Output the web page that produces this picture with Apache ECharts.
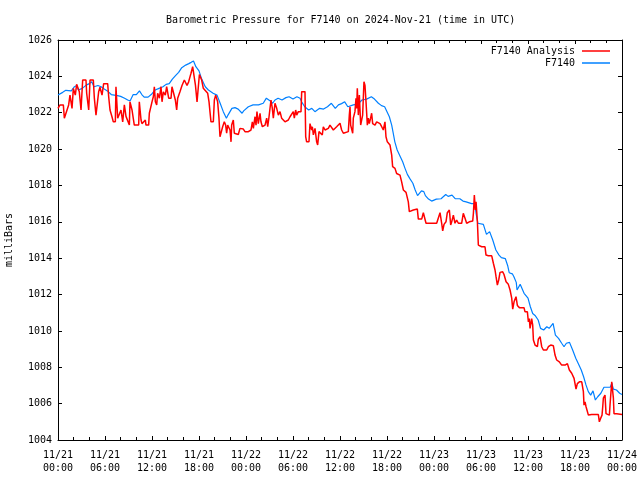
<!DOCTYPE html>
<html><head><meta charset="utf-8">
<script src="https://cdn.jsdelivr.net/npm/echarts@6/dist/echarts.min.js"></script>
<style>html,body{margin:0;padding:0;background:#fff}#c{width:640px;height:480px}</style>
</head><body><div id="c"></div>
<script>
const chartTitle = 'Barometric Pressure for F7140 on 2024-Nov-21 (time in UTC)';
const yAxisName = 'milliBars';
const seriesNames = ['F7140 Analysis', 'F7140'];
const xTickLabels = ['11/21\n00:00','11/21\n06:00','11/21\n12:00','11/21\n18:00','11/22\n00:00','11/22\n06:00','11/22\n12:00','11/22\n18:00','11/23\n00:00','11/23\n06:00','11/23\n12:00','11/23\n18:00','11/24\n00:00'];
const yMin = 1004, yMax = 1026, yStep = 2;
const xMin = 0, xMax = 72, xStep = 6; // hours since 11/21 00:00 UTC

// F7140 (station) — hours since start, pressure (mb)
const stationHours = [0,0.6,1.0,1.7,2.1,2.4,2.6,3.1,3.6,4.0,4.3,4.6,5.1,5.5,5.9,6.3,6.8,7.2,7.6,8.0,8.5,8.9,9.2,9.6,10.0,10.4,10.7,11.0,11.5,11.9,12.4,12.9,13.4,13.8,14.2,14.6,15.0,15.4,15.8,16.3,16.7,17.0,17.3,17.6,18.0,18.3,18.8,19.2,19.8,20.3,20.7,21.1,21.5,21.7,22.2,22.6,23.0,23.5,23.7,24.3,24.9,25.6,26.2,26.6,27.1,27.4,27.7,28.1,28.6,29.1,29.5,30.0,30.5,30.9,31.1,31.5,32.0,32.4,32.8,33.4,33.9,34.4,34.9,35.4,35.8,36.2,36.6,37.0,37.7,38.3,38.8,39.4,40.0,40.4,40.9,41.3,41.7,42.0,42.3,42.6,42.8,43.0,43.3,43.7,44.0,44.3,44.6,44.9,45.3,45.6,45.9,46.1,46.4,46.7,46.9,47.3,47.7,48.3,48.9,49.5,49.8,50.3,50.7,51.3,51.7,52.1,52.8,53.2,53.4,53.6,54.3,54.7,55.1,55.2,55.5,55.9,56.3,56.6,57.1,57.4,57.6,58.0,58.2,58.5,58.6,59.0,59.2,59.5,59.7,60.0,60.3,60.6,60.9,61.3,61.6,62.0,62.4,62.7,63.2,63.5,63.9,64.3,64.6,64.9,65.3,65.7,66.1,66.4,66.8,67.1,67.4,67.7,68.0,68.3,68.6,68.9,69.3,69.7,70.0,70.5,70.7,70.9,71.3,71.7,72.0];
const stationValues = [1022.97,1023.12,1023.23,1023.2,1023.43,1023.5,1023.25,1023.34,1023.52,1023.6,1023.7,1023.43,1023.5,1023.43,1023.3,1023.2,1023.0,1022.97,1022.94,1022.9,1022.8,1022.7,1022.65,1023.0,1023.0,1023.2,1023.0,1022.86,1022.86,1023.0,1023.25,1023.34,1023.43,1023.56,1023.6,1023.85,1024.04,1024.22,1024.48,1024.62,1024.7,1024.77,1024.85,1024.53,1024.3,1023.9,1023.43,1023.25,1023.07,1022.97,1022.52,1022.06,1021.7,1021.87,1022.24,1022.28,1022.2,1021.97,1022.1,1022.33,1022.43,1022.43,1022.52,1022.8,1022.65,1022.52,1022.7,1022.8,1022.7,1022.83,1022.88,1022.76,1022.88,1022.8,1022.6,1022.33,1022.15,1022.24,1022.06,1022.24,1022.2,1022.33,1022.52,1022.24,1022.43,1022.5,1022.6,1022.33,1022.43,1022.47,1022.7,1022.75,1022.88,1022.75,1022.52,1022.39,1022.33,1022.06,1021.78,1021.32,1020.87,1020.4,1019.95,1019.58,1019.3,1018.94,1018.61,1018.39,1018.12,1017.75,1017.44,1017.33,1017.7,1017.66,1017.44,1017.25,1017.14,1017.25,1017.27,1017.5,1017.4,1017.47,1017.27,1017.27,1017.14,1017.1,1017.0,1017.0,1016.4,1015.92,1015.86,1015.31,1015.46,1015.55,1015.0,1014.45,1014.17,1014.03,1013.98,1013.6,1013.2,1013.14,1012.98,1012.67,1012.25,1012.56,1012.45,1012.07,1012.07,1011.8,1011.33,1010.96,1010.85,1010.6,1010.14,1010.05,1010.23,1010.14,1010.41,1009.77,1009.59,1009.32,1009.13,1009.32,1009.37,1008.95,1008.5,1008.22,1007.85,1007.48,1007.03,1006.66,1006.47,1006.7,1006.2,1006.38,1006.57,1006.9,1006.9,1006.9,1007.12,1006.8,1006.75,1006.57,1006.5];

// F7140 Analysis — hours since start, pressure (mb)
const analysisHours = [0.0,0.26,0.68,0.81,1.02,1.36,1.53,1.79,1.96,2.21,2.38,2.72,2.94,3.15,3.57,3.66,3.92,4.09,4.51,4.64,4.85,5.06,5.19,5.36,5.62,5.83,6.34,6.47,6.64,6.89,7.06,7.32,7.4,7.62,7.83,8.04,8.26,8.47,8.68,8.89,9.11,9.19,9.45,9.74,10.3,10.38,10.6,10.72,10.89,11.15,11.23,11.57,11.66,11.87,12.0,12.17,12.3,12.43,12.6,12.72,12.94,13.15,13.28,13.45,13.7,13.87,14.13,14.43,14.55,14.72,14.98,15.15,15.28,15.57,15.83,16.13,16.34,16.47,16.68,16.85,16.98,17.19,17.4,17.55,17.75,17.95,18.05,18.25,18.34,18.55,18.77,19.11,19.28,19.4,19.53,19.83,19.96,20.13,20.38,20.55,20.68,20.89,21.02,21.23,21.4,21.53,21.66,21.83,21.96,22.09,22.17,22.38,22.51,22.68,23.02,23.23,23.66,23.87,24.3,24.64,24.81,24.94,25.15,25.28,25.4,25.57,25.79,25.91,26.09,26.43,26.64,26.77,26.94,27.19,27.36,27.49,27.7,27.92,28.13,28.34,28.55,28.77,28.98,29.4,29.62,29.83,30.04,30.17,30.34,30.47,30.68,31.02,31.11,31.53,31.62,31.74,32.04,32.17,32.38,32.47,32.6,32.81,33.02,33.15,33.32,33.57,33.74,33.87,34.09,34.3,34.51,34.72,34.94,35.15,35.36,35.57,35.79,36.0,36.21,36.43,36.64,37.06,37.19,37.28,37.36,37.62,37.7,37.91,38.04,38.13,38.21,38.34,38.47,38.64,38.77,38.89,39.06,39.19,39.32,39.49,39.62,39.74,39.91,40.04,40.17,40.47,40.68,40.89,41.11,41.32,41.53,41.74,41.87,42.04,42.17,42.38,42.6,42.72,43.02,43.23,43.66,43.87,44.09,44.43,44.72,44.85,45.02,45.36,45.87,46.0,46.43,46.64,46.85,46.98,47.7,48.34,48.55,48.77,48.98,49.11,49.28,49.53,49.7,49.96,50.13,50.26,50.47,50.68,50.89,51.11,51.53,51.74,51.96,52.17,52.51,52.6,52.94,53.03,53.15,53.28,53.37,53.54,53.66,54.09,54.51,54.64,54.94,55.37,55.58,55.79,55.92,56.09,56.26,56.43,56.77,56.94,57.2,57.49,57.71,57.92,58.05,58.22,58.47,58.64,58.9,59.49,59.62,59.92,60.05,60.17,60.26,60.47,60.6,60.69,60.9,61.2,61.32,61.54,61.75,61.96,62.39,62.6,62.9,63.24,63.45,63.66,64.0,64.3,64.51,64.73,65.03,65.28,65.58,65.88,66.13,66.3,66.56,66.86,67.07,67.15,67.28,67.41,67.58,67.71,68.13,68.98,69.11,69.28,69.45,69.54,69.62,69.83,69.96,70.05,70.39,70.47,70.69,70.81,70.9,70.98,71.32,71.54,72.0];
const analysisValues = [1022.24,1022.43,1022.43,1021.7,1021.8,1022.43,1022.97,1022.24,1023.34,1022.97,1023.56,1023.15,1022.15,1023.8,1023.8,1023.07,1022.15,1023.8,1023.8,1022.8,1021.87,1021.87,1023.15,1023.4,1022.97,1023.6,1023.6,1022.88,1022.15,1021.78,1021.5,1021.5,1023.43,1021.7,1021.8,1022.15,1021.5,1022.43,1021.8,1021.7,1021.32,1022.6,1022.15,1021.32,1021.32,1022.6,1021.6,1021.4,1021.5,1021.6,1021.32,1021.32,1021.97,1021.87,1022.6,1022.88,1023.43,1022.6,1022.43,1023.07,1022.8,1023.43,1022.6,1023.15,1022.97,1023.43,1022.8,1022.8,1023.43,1023.34,1022.7,1022.15,1022.8,1023.15,1023.5,1023.8,1023.8,1023.5,1023.7,1023.97,1024.17,1024.53,1024.53,1023.5,1022.6,1022.6,1024.1,1024.17,1023.8,1023.34,1023.25,1023.07,1022.6,1022.06,1021.5,1021.5,1022.7,1022.97,1022.6,1021.7,1020.68,1020.68,1021.23,1021.5,1021.32,1020.87,1021.32,1021.4,1021.05,1020.4,1021.32,1021.6,1020.87,1020.9,1020.8,1021.14,1021.1,1020.96,1020.96,1021.05,1021.5,1021.14,1021.78,1021.32,1022.06,1021.4,1021.97,1021.5,1021.23,1021.32,1021.7,1021.23,1021.78,1022.7,1022.24,1021.7,1022.52,1022.24,1021.87,1022.06,1021.7,1021.7,1021.5,1021.6,1021.78,1021.7,1022.06,1021.7,1022.15,1021.87,1022.06,1022.06,1023.16,1023.16,1020.68,1020.4,1020.4,1021.4,1021.05,1021.23,1020.78,1021.14,1020.4,1020.23,1020.96,1021.05,1020.78,1021.23,1021.05,1020.96,1021.14,1021.32,1021.23,1021.05,1021.14,1021.23,1021.14,1021.42,1021.05,1020.87,1020.96,1020.96,1021.87,1022.33,1021.32,1020.87,1021.7,1022.06,1022.8,1022.24,1023.34,1021.87,1022.97,1021.32,1021.4,1021.87,1023.7,1023.5,1022.6,1021.32,1021.7,1021.4,1021.7,1021.97,1021.4,1021.32,1021.5,1021.5,1021.4,1021.23,1021.05,1021.5,1020.68,1020.4,1020.3,1020.23,1019.67,1019.03,1018.94,1018.66,1018.57,1018.2,1017.75,1017.62,1017.1,1016.56,1016.6,1016.65,1016.7,1016.15,1016.15,1016.5,1016.5,1015.92,1015.92,1015.92,1016.0,1016.5,1015.92,1015.5,1015.86,1016.0,1016.5,1016.65,1015.83,1016.0,1016.37,1015.92,1016.1,1015.92,1015.92,1016.47,1016.2,1015.92,1016.0,1016.04,1016.04,1016.47,1017.47,1016.65,1017.1,1016.0,1014.72,1014.63,1014.63,1014.17,1014.13,1014.13,1013.72,1013.35,1012.98,1012.52,1012.8,1013.22,1013.25,1013.1,1012.7,1012.56,1012.25,1011.8,1011.2,1011.6,1011.88,1011.4,1011.28,1011.28,1011.05,1011.05,1010.5,1010.68,1010.14,1010.68,1010.32,1009.5,1009.22,1009.13,1009.55,1009.68,1009.13,1008.95,1008.95,1009.13,1009.22,1009.18,1008.67,1008.4,1008.3,1008.12,1008.2,1008.12,1008.2,1007.85,1007.67,1007.39,1006.8,1007.1,1007.2,1007.2,1006.66,1005.92,1006.1,1005.83,1005.83,1005.37,1005.4,1005.4,1005.0,1005.2,1005.37,1005.83,1006.3,1006.47,1005.45,1005.37,1005.37,1005.92,1007.2,1007.2,1006.3,1005.45,1005.45,1005.37,1005.4];

const FONT = 'DejaVu Sans Mono';
const zip = (a, b) => a.map((t, i) => [t, b[i]]);

const baseX = {
  type: 'value', min: xMin, max: xMax, interval: xStep,
  axisLine: { show: true, onZero: false, lineStyle: { color: '#000', width: 1 } },
  axisTick: { show: true, inside: true, length: 4, lineStyle: { color: '#000' } },
  minorTick: { show: true, splitNumber: 3, length: 3, lineStyle: { color: '#000' } },
  splitLine: { show: false }
};
const baseY = {
  type: 'value', min: yMin, max: yMax, interval: yStep,
  axisLine: { show: true, onZero: false, lineStyle: { color: '#000', width: 1 } },
  axisTick: { show: true, inside: true, length: 4, lineStyle: { color: '#000' } },
  splitLine: { show: false }
};
const legendBase = { right: 25, align: 'right', icon: 'rect', itemWidth: 28, itemHeight: 1.5, itemGap: 0,
  textStyle: { fontFamily: FONT, fontSize: 10, color: '#000', padding: [0, 2, 0, 0] } };

const chart = echarts.init(document.getElementById('c'), null, { renderer: 'canvas' });
chart.setOption({
  backgroundColor: '#fff',
  animation: false,
  textStyle: { fontFamily: FONT, color: '#000' },
  title: { text: chartTitle, left: 161, top: 10,
    textStyle: { fontFamily: FONT, fontSize: 10, fontWeight: 'normal', color: '#000' } },
  grid: { left: 58, right: 18, top: 40, bottom: 40, containLabel: false, outerBoundsMode: 'none' },
  legend: [
    Object.assign({ data: [seriesNames[0]], top: 41 }, legendBase),
    Object.assign({ data: [seriesNames[1]], top: 53 }, legendBase)
  ],
  xAxis: [
    Object.assign({}, baseX, { position: 'bottom',
      axisLabel: { show: true, margin: 9, color: '#000', fontFamily: FONT, fontSize: 10, lineHeight: 13,
        showMinLabel: true, showMaxLabel: true, hideOverlap: false,
        formatter: v => xTickLabels[Math.round((v - xMin) / xStep)] } }),
    Object.assign({}, baseX, { position: 'top', axisLabel: { show: false } })
  ],
  yAxis: [
    Object.assign({}, baseY, { position: 'left', name: yAxisName, nameLocation: 'middle', nameGap: 44, nameRotate: 90,
      nameTextStyle: { fontFamily: FONT, fontSize: 10, color: '#000' },
      axisLabel: { show: true, margin: 6, color: '#000', fontFamily: FONT, fontSize: 10, formatter: v => String(v) } }),
    Object.assign({}, baseY, { position: 'right', axisLabel: { show: false } })
  ],
  series: [
    { name: seriesNames[1], type: 'line', xAxisIndex: 0, yAxisIndex: 0, data: zip(stationHours, stationValues),
      symbol: 'none', lineStyle: { color: '#0080ff', width: 1.2 }, itemStyle: { color: '#0080ff' } },
    { name: seriesNames[0], type: 'line', xAxisIndex: 0, yAxisIndex: 0, data: zip(analysisHours, analysisValues),
      symbol: 'none', lineStyle: { color: '#ff0000', width: 1.5 }, itemStyle: { color: '#ff0000' } }
  ]
});
</script></body></html>
